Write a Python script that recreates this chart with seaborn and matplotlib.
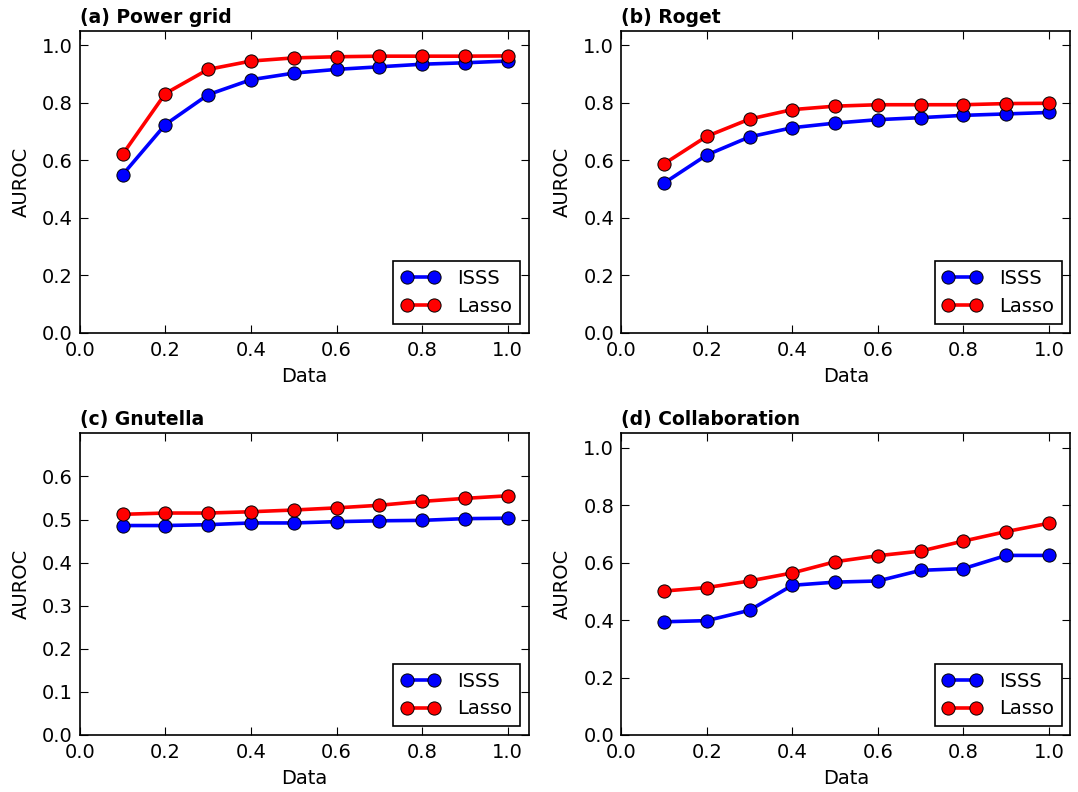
import matplotlib
matplotlib.use('Agg')
import matplotlib.pyplot as plt
import seaborn as sns
import pandas as pd

# fraction of data used
data_frac = [0.1, 0.2, 0.3, 0.4, 0.5, 0.6, 0.7, 0.8, 0.9, 1.0]

# AUROC values
power_isss = [0.549, 0.724, 0.828, 0.880, 0.903, 0.916, 0.925, 0.934, 0.939, 0.945]
power_lasso = [0.620, 0.832, 0.916, 0.945, 0.956, 0.960, 0.962, 0.962, 0.962, 0.963]

roget_isss = [0.520, 0.618, 0.681, 0.713, 0.729, 0.741, 0.748, 0.756, 0.761, 0.766]
roget_lasso = [0.587, 0.683, 0.743, 0.776, 0.788, 0.793, 0.793, 0.793, 0.797, 0.798]

gnutella_isss = [0.486, 0.486, 0.488, 0.492, 0.492, 0.495, 0.497, 0.498, 0.502, 0.503]
gnutella_lasso = [0.512, 0.515, 0.515, 0.518, 0.522, 0.527, 0.533, 0.542, 0.549, 0.555]

collab_isss = [0.394, 0.398, 0.434, 0.521, 0.532, 0.536, 0.573, 0.579, 0.625, 0.625]
collab_lasso = [0.501, 0.513, 0.536, 0.564, 0.603, 0.624, 0.640, 0.675, 0.708, 0.737]

titles = ['(a) Power grid', '(b) Roget', '(c) Gnutella', '(d) Collaboration']
methods = ['ISSS', 'Lasso']

sns.set_style('ticks', {'xtick.direction': 'in', 'ytick.direction': 'in',
                        'axes.edgecolor': 'black', 'axes.labelcolor': 'black',
                        'text.color': 'black', 'xtick.color': 'black',
                        'ytick.color': 'black'})
plt.rcParams['font.family'] = ['DejaVu Sans']
plt.rcParams['font.size'] = 14

fig, axes = plt.subplots(2, 2, figsize=(10.78, 7.92), dpi=100)
fig.subplots_adjust(left=0.074, right=0.993, top=0.961, bottom=0.072,
                    wspace=0.205, hspace=0.334)

panels = [(power_isss, power_lasso), (roget_isss, roget_lasso),
          (gnutella_isss, gnutella_lasso), (collab_isss, collab_lasso)]

for i, (ax, (isss, lasso)) in enumerate(zip(axes.flat, panels)):
    df = pd.DataFrame({
        'Data': data_frac + data_frac,
        'AUROC': isss + lasso,
        'Method': ['ISSS'] * len(isss) + ['Lasso'] * len(lasso),
    })
    sns.lineplot(data=df, x='Data', y='AUROC', hue='Method', hue_order=methods,
                 palette={'ISSS': 'blue', 'Lasso': 'red'}, marker='o',
                 markersize=9.5, markeredgecolor='black', markeredgewidth=0.7,
                 linewidth=2.6, errorbar=None, legend=False, ax=ax)

    ax.set_xlim(0, 1.05)
    ax.set_xticks([0.0, 0.2, 0.4, 0.6, 0.8, 1.0])
    if i == 2:
        ax.set_ylim(0, 0.7)
        ax.set_yticks([0.0, 0.1, 0.2, 0.3, 0.4, 0.5, 0.6])
    else:
        ax.set_ylim(0, 1.05)
        ax.set_yticks([0.0, 0.2, 0.4, 0.6, 0.8, 1.0])
    ax.xaxis.set_major_formatter(matplotlib.ticker.FormatStrFormatter('%.1f'))
    ax.yaxis.set_major_formatter(matplotlib.ticker.FormatStrFormatter('%.1f'))

    ax.tick_params(top=True, right=True, direction='in', length=6, width=0.8,
                   labelsize=14, colors='black')
    ax.tick_params(axis='x', pad=6)
    ax.tick_params(axis='y', pad=5)
    for sp in ax.spines.values():
        sp.set_linewidth(1.2)
        sp.set_color('black')

    ax.set_xlabel('Data', fontsize=14, labelpad=5)
    ax.set_ylabel('AUROC', fontsize=14, labelpad=8)
    ax.set_title(titles[i], loc='left', fontweight='bold', fontsize=13.5, pad=6)

    leg = ax.legend(ax.lines[:2], methods, loc='lower right', numpoints=2,
                    fancybox=False, framealpha=1, edgecolor='black',
                    fontsize=14, handlelength=2.0, handletextpad=0.9,
                    borderaxespad=0.45, labelspacing=0.45, borderpad=0.4)
    leg.get_frame().set_linewidth(1.2)

fig.savefig('out.png', dpi=100)
